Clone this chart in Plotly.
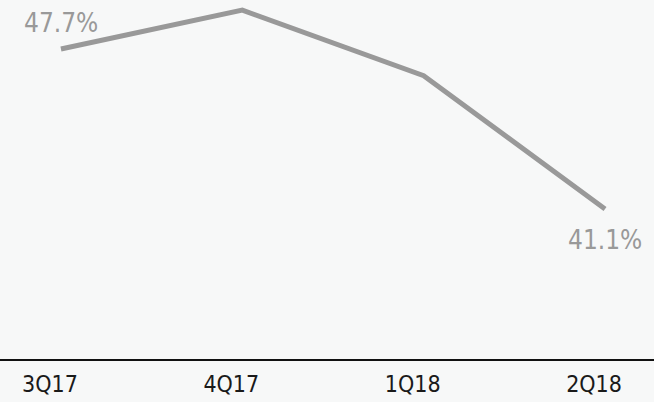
import plotly.graph_objects as go

# Quarterly ratio, in percent
quarters = ["3Q17", "4Q17", "1Q18", "2Q18"]
ratio = [47.7, 49.3, 46.6, 41.1]
# Only the first and last points carry a value label (index, vertical offset in px)
labelled_points = [(0, 26), (3, -31)]

FONT = "DejaVu Sans Condensed, DejaVu Sans, sans-serif"
BG = "#f7f8f8"
GREY = "#999999"

fig = go.Figure(
    go.Scatter(
        x=quarters,
        y=ratio,
        mode="lines",
        line=dict(color=GREY, width=5),
        hoverinfo="skip",
    )
)

for i, shift in labelled_points:
    fig.add_annotation(
        x=quarters[i],
        y=ratio[i],
        text=f"{ratio[i]:.1f}%",
        showarrow=False,
        xanchor="center",
        yanchor="middle",
        yshift=shift,
        font=dict(family=FONT, size=26, color=GREY),
    )

fig.update_layout(
    width=654,
    height=402,
    margin=dict(l=0, r=0, t=0, b=43),
    paper_bgcolor=BG,
    plot_bgcolor=BG,
    showlegend=False,
)

fig.update_xaxes(
    type="category",
    range=[-0.336, 3.27],
    showgrid=False,
    zeroline=False,
    showline=True,
    linecolor="#111111",
    linewidth=2,
    ticks="",
    tickfont=dict(family=FONT, size=23, color="#1a1a1a"),
    ticklabelshift=-11,
    ticklabelstandoff=3,
)

fig.update_yaxes(
    range=[34.91, 49.72],
    visible=False,
    showgrid=False,
    zeroline=False,
)

fig.write_html("out.html")
